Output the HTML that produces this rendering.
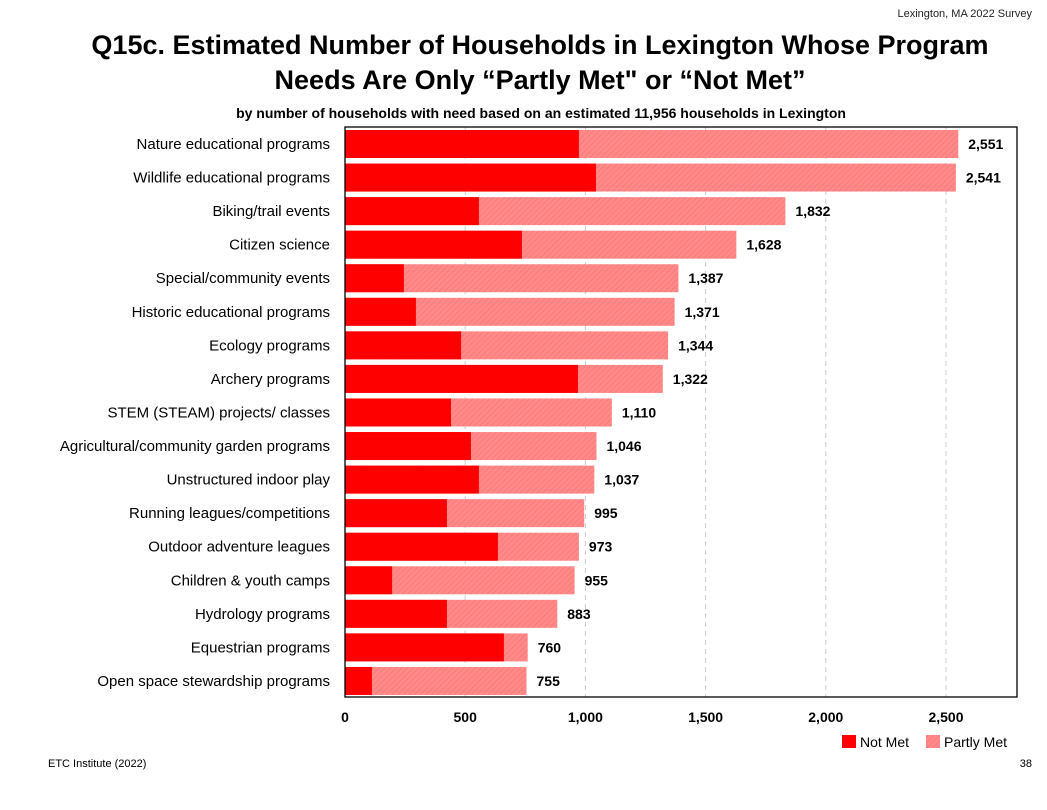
<!DOCTYPE html>
<html><head><meta charset="utf-8"><style>
body{margin:0;background:#fff;width:1047px;height:805px;overflow:hidden;font-family:"Liberation Sans",sans-serif}
</style></head><body>
<svg width="1047" height="805" xmlns="http://www.w3.org/2000/svg">
<defs><pattern id="hatch" width="4" height="4" patternUnits="userSpaceOnUse" patternTransform="rotate(45)"><rect width="4" height="4" fill="#ff8a8a"/><line x1="0" y1="0" x2="0" y2="4" stroke="#ff7272" stroke-width="1.5"/></pattern></defs>
<text x="1032" y="17" font-size="11" text-anchor="end" fill="#222">Lexington, MA 2022 Survey</text>
<text x="540" y="54" font-size="27" font-weight="bold" text-anchor="middle" fill="#000">Q15c. Estimated Number of Households in Lexington Whose Program</text>
<text x="540" y="89" font-size="27" font-weight="bold" text-anchor="middle" fill="#000">Needs Are Only “Partly Met" or “Not Met”</text>
<text x="541" y="118" font-size="14" font-weight="bold" text-anchor="middle" fill="#000">by number of households with need based on an estimated 11,956 households in Lexington</text>
<g id="grid"></g>
<g id="bars"></g>
<rect x="345" y="127" width="672" height="570" fill="none" stroke="#000" stroke-width="1.3"/>
<g id="labels"></g>
<g id="ticks"></g>
<g>
<rect x="842" y="735" width="14" height="13" fill="#ff0000"/>
<text x="860" y="747" font-size="14">Not Met</text>
<rect x="926" y="735" width="14" height="13" fill="url(#hatch)"/>
<text x="944" y="747" font-size="14">Partly Met</text>
</g>
<text x="48" y="767" font-size="11">ETC Institute (2022)</text>
<text x="1032" y="767" font-size="11" text-anchor="end">38</text>
</svg>
<script>
const categories=["Nature educational programs","Wildlife educational programs","Biking/trail events","Citizen science","Special/community events","Historic educational programs","Ecology programs","Archery programs","STEM (STEAM) projects/ classes","Agricultural/community garden programs","Unstructured indoor play","Running leagues/competitions","Outdoor adventure leagues","Children & youth camps","Hydrology programs","Equestrian programs","Open space stewardship programs"];
const totals=[2551,2541,1832,1628,1387,1371,1344,1322,1110,1046,1037,995,973,955,883,760,755];
const notMet=[973,1044,557,736,245,295,483,969,441,524,557,424,636,196,424,661,112];
const ticks=[0,500,1000,1500,2000,2500];
const NS="http://www.w3.org/2000/svg";
const x=v=>345+v*0.2404;
const y=i=>127+3+i*33.56;
const bh=28;
function mk(t,a){const e=document.createElementNS(NS,t);for(const k in a)e.setAttribute(k,a[k]);return e;}
const grid=document.getElementById('grid'),bars=document.getElementById('bars'),labels=document.getElementById('labels'),tk=document.getElementById('ticks');
ticks.forEach(t=>{
 if(t>0){const l=mk('line',{x1:x(t),x2:x(t),y1:127,y2:697,stroke:'#ccc','stroke-dasharray':'5,4'});
 
 grid.appendChild(l);}
 const s=mk('text',{x:x(t),y:722,'font-size':14,'font-weight':'bold','text-anchor':'middle'});s.textContent=t.toLocaleString('en-US');
 
 tk.appendChild(s);
});
categories.forEach((c,i)=>{
 const p=mk('rect',{x:x(0),y:y(i),width:x(totals[i])-x(0),height:bh,fill:'url(#hatch)'});
 
 bars.appendChild(p);
 const n=mk('rect',{x:x(0),y:y(i),width:x(notMet[i])-x(0),height:bh,fill:'#ff0000'});
 
 bars.appendChild(n);
 const v=mk('text',{x:x(totals[i])+10,y:y(i)+bh/2+5,'font-size':14,'font-weight':'bold'});v.textContent=totals[i].toLocaleString('en-US');
 
 labels.appendChild(v);
 const l=mk('text',{x:330,y:y(i)+bh/2+5,'font-size':15,'text-anchor':'end'});l.textContent=c;
 
 labels.appendChild(l);
});
</script>
</body></html>
